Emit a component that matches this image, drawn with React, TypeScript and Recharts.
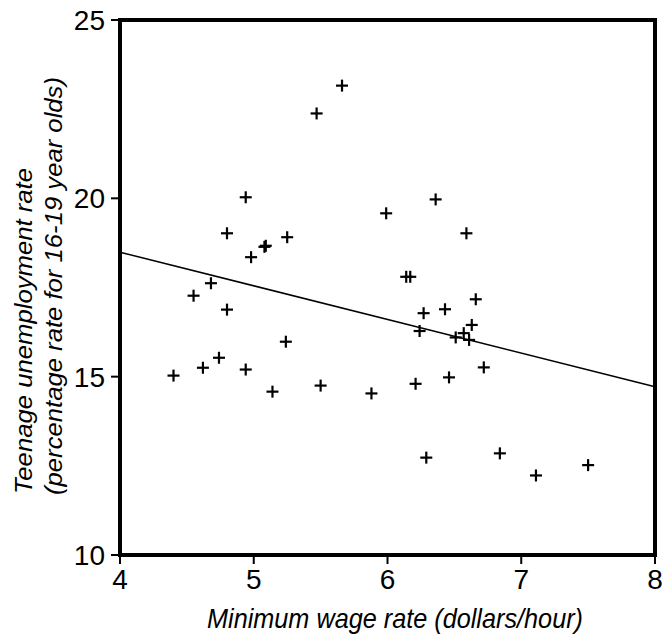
import React from "react";
import { ScatterChart, Scatter, XAxis, YAxis, ReferenceLine } from "recharts";

// minimum wage (dollars/hour) and teen unemployment rate, one entry per point
const wage = [
  5.66, 5.47, 4.94, 5.99, 4.8, 5.25, 5.08, 5.09, 4.98, 4.68,
  6.36, 6.59, 6.14, 6.17, 4.55, 4.8, 5.24, 4.74, 4.62, 4.4,
  4.94, 5.14, 5.5, 5.88, 6.66, 6.43, 6.27, 6.63, 6.24, 6.57,
  6.51, 6.61, 6.72, 6.46, 6.21, 6.29, 6.84, 7.11, 7.5,
];
const unemployment = [
  23.16, 22.38, 20.03, 19.58, 19.02, 18.91, 18.64, 18.67, 18.35, 17.62,
  19.97, 19.02, 17.8, 17.8, 17.27, 16.88, 15.98, 15.53, 15.25, 15.03,
  15.2, 14.58, 14.75, 14.53, 17.17, 16.89, 16.78, 16.45, 16.28, 16.22,
  16.1, 16.03, 15.26, 14.98, 14.8, 12.73, 12.85, 12.23, 12.52,
];

const xTicks = [4, 5, 6, 7, 8];
const yTicks = [10, 15, 20, 25];

// fitted line ends
const fitStart = { x: 4, y: 18.49 };
const fitEnd = { x: 8, y: 14.72 };

const points = wage.map((w, i) => ({ x: w, y: unemployment[i] }));

const W = 663;
const H = 637;
const M = { top: 20, right: 8 };
const Y_W = 120;
const X_H = 82;

const FONT = "'Liberation Sans', Arial, sans-serif";

const Cross = (props: any) => {
  const { cx, cy } = props;
  if (cx == null || cy == null) return null;
  return (
    <g stroke="#000" strokeWidth={2.2}>
      <line x1={cx - 6} y1={cy} x2={cx + 6} y2={cy} />
      <line x1={cx} y1={cy - 6} x2={cx} y2={cy + 6} />
    </g>
  );
};

// frame round the plot area + axis titles (narrow italic like the original)
const Overlay = () => (
  <>
    <rect
      x={Y_W}
      y={M.top}
      width={W - M.right - Y_W}
      height={H - X_H - M.top}
      fill="none"
      stroke="#000"
      strokeWidth={4}
    />
    <g fontFamily={FONT} fontStyle="italic" fill="#000">
      <text
        x={395}
        y={628}
        fontSize={28}
        textAnchor="middle"
        textLength={376}
        lengthAdjust="spacingAndGlyphs"
      >
        Minimum wage rate (dollars/hour)
      </text>
      <g transform="rotate(-90)">
        <text x={-494} y={32} fontSize={24} textLength={326} lengthAdjust="spacingAndGlyphs">
          Teenage unemployment rate
        </text>
        <text x={-495} y={62} fontSize={24} textLength={418} lengthAdjust="spacingAndGlyphs">
          (percentage rate for 16-19 year olds)
        </text>
      </g>
    </g>
  </>
);

export default function App() {
  return (
    <div style={{ position: "absolute", left: 0, top: 0, width: W, height: H, background: "#fff" }}>
      <ScatterChart
        width={W}
        height={H}
        margin={{ top: M.top, right: M.right, bottom: 0, left: 0 }}
      >
        <XAxis
          type="number"
          dataKey="x"
          domain={[4, 8]}
          ticks={xTicks}
          height={X_H}
          axisLine={false}
          tickLine={{ stroke: "#000", strokeWidth: 2 }}
          tickSize={9}
          tickMargin={5}
          tick={{ fill: "#000", fontSize: 28, fontFamily: FONT }}
        />
        <YAxis
          type="number"
          dataKey="y"
          domain={[10, 25]}
          ticks={yTicks}
          width={Y_W}
          axisLine={false}
          tickLine={{ stroke: "#000", strokeWidth: 2 }}
          tickSize={9}
          tickMargin={6}
          tick={{ fill: "#000", fontSize: 28, fontFamily: FONT }}
        />
        <ReferenceLine
          segment={[fitStart, fitEnd]}
          stroke="#000"
          strokeWidth={1.5}
        />
        <Scatter data={points} shape={Cross} isAnimationActive={false} />
      </ScatterChart>
      <svg
        width={W}
        height={H}
        style={{ position: "absolute", left: 0, top: 0, pointerEvents: "none" }}
      >
        <Overlay />
      </svg>
    </div>
  );
}
